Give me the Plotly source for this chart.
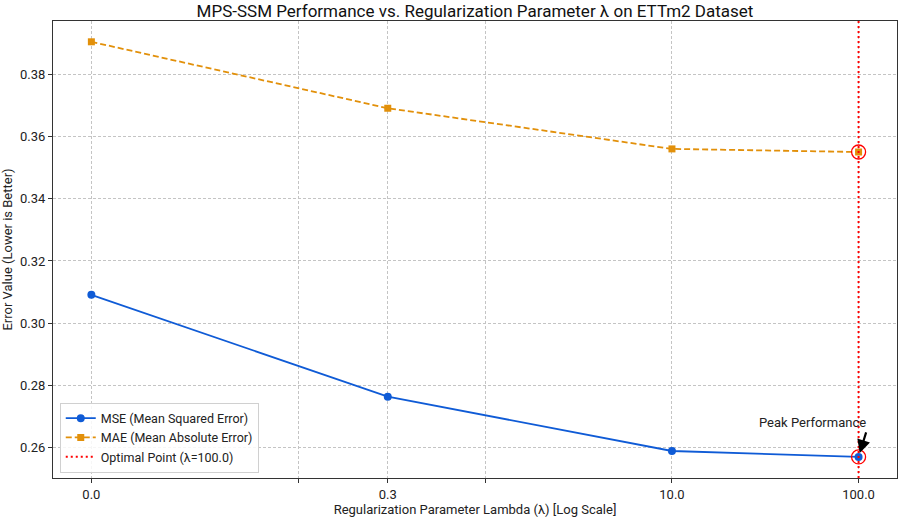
import numpy as np
import plotly.graph_objects as go

# Data
lambdas = [0.0, 0.3, 10.0, 100.0]
mse = [0.3091, 0.2763, 0.2588, 0.2569]
mae = [0.3906, 0.3692, 0.3561, 0.3551]
tick_lambdas = [0.0, 0.1, 0.3, 1.0, 10.0, 100.0]
tick_labels = ["0.0", "", "0.3", "", "10.0", "100.0"]
y_ticks = [0.26, 0.28, 0.30, 0.32, 0.34, 0.36, 0.38]
optimal_lambda = 100.0

LINTHRESH = 0.1
LINSCALE = 1.0 / (1 - 1 / 10.0)


def symlog(v):
    a = np.abs(np.asarray(v, dtype=float))
    return np.where(a <= LINTHRESH, a / LINTHRESH * LINSCALE,
                    LINSCALE + np.log10(np.maximum(a, LINTHRESH) / LINTHRESH))


xt = symlog(lambdas)
opt_x = float(symlog([optimal_lambda])[0])
opt_idx = lambdas.index(optimal_lambda)

BLUE = "#0f5bd6"
ORANGE = "#e2900a"
FONT = "Roboto"
GRID = "#c4c4c4"

W, H = 902, 519
ML, MR, MT, MB = 53, 5, 21, 41

fig = go.Figure()
fig.add_trace(go.Scatter(
    x=xt, y=mse, mode="lines+markers", name="MSE (Mean Squared Error)",
    line=dict(color=BLUE, width=1.8),
    marker=dict(symbol="circle", size=8, color=BLUE),
))
fig.add_trace(go.Scatter(
    x=xt, y=mae, mode="lines+markers", name="MAE (Mean Absolute Error)",
    line=dict(color=ORANGE, width=1.8, dash="6px,3px"),
    marker=dict(symbol="square", size=7, color=ORANGE),
))
fig.add_trace(go.Scatter(
    x=[None], y=[None], mode="lines", name="Optimal Point (λ=100.0)",
    line=dict(color="red", width=2, dash="2px,3px"),
))
fig.add_trace(go.Scatter(
    x=[opt_x, opt_x], y=[mse[opt_idx], mae[opt_idx]], mode="markers",
    showlegend=False,
    marker=dict(symbol="circle-open", size=14, color="red", line=dict(width=1.3)),
))

fig.add_shape(type="line", x0=opt_x, x1=opt_x, y0=0, y1=1, yref="paper",
              line=dict(color="red", width=2, dash="2px,3px"), layer="above")

fig.add_annotation(x=opt_x, y=mse[opt_idx], ax=8, ay=-26, text="",
                   showarrow=True, arrowhead=2, arrowsize=1.2, arrowwidth=2.2,
                   arrowcolor="black", standoff=4)
fig.add_annotation(x=opt_x, y=mse[opt_idx], xshift=-46, yshift=34,
                   text="Peak Performance", showarrow=False,
                   font=dict(size=13, color="#222", family=FONT))

fig.update_layout(
    width=W, height=H,
    margin=dict(l=ML, r=MR, t=MT, b=MB, autoexpand=False),
    paper_bgcolor="white", plot_bgcolor="white",
    font=dict(family=FONT, size=13, color="#222"),
    title=dict(text="MPS-SSM Performance vs. Regularization Parameter λ on ETTm2 Dataset",
               x=(ML + (W - ML - MR) / 2) / W, xanchor="center",
               y=1 - 11 / H, yanchor="middle",
               font=dict(size=17, color="#111")),
    legend=dict(x=0.008, y=0.012, xanchor="left", yanchor="bottom",
                bgcolor="rgba(255,255,255,0.85)", bordercolor="#d0d0d0", borderwidth=1,
                font=dict(size=12.5), tracegroupgap=0, itemwidth=30),
    showlegend=True,
)
fig.update_xaxes(
    range=[-0.2056, 4.317], tickvals=symlog(tick_lambdas), ticktext=tick_labels,
    showgrid=True, gridcolor=GRID, griddash="3px,2px", gridwidth=0.8,
    showline=True, linecolor="#333", linewidth=1, mirror=True,
    ticks="outside", ticklen=4, tickcolor="#333", zeroline=False, automargin=False,
    title=dict(text="Regularization Parameter Lambda (λ) [Log Scale]", standoff=3,
               font=dict(size=13)),
)
fig.update_yaxes(
    range=[0.2501, 0.3973], tickvals=y_ticks, tickformat=".2f",
    showgrid=True, gridcolor=GRID, griddash="3px,2px", gridwidth=0.8,
    showline=True, linecolor="#333", linewidth=1, mirror=True,
    ticks="outside", ticklen=4, tickcolor="#333", zeroline=False, automargin=False,
    title=dict(text="Error Value (Lower is Better)", standoff=10, font=dict(size=13)),
)

fig.write_html("out.html", config={"displayModeBar": False},
               post_script="document.body.style.margin='0';")
